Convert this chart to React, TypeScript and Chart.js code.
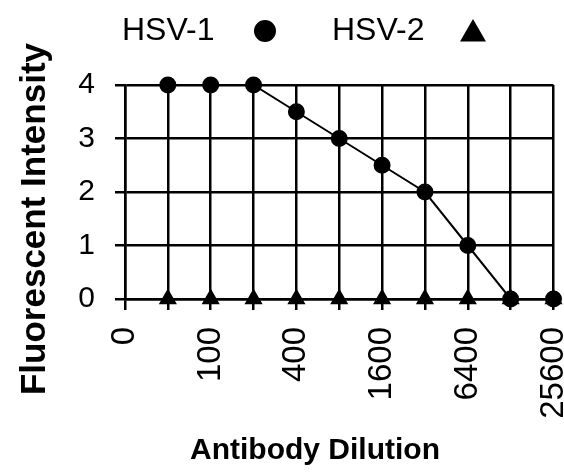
import React, { useEffect, useRef } from "react";
import { Chart, registerables } from "chart.js";
import { drawPoint } from "chart.js/helpers";

Chart.register(...registerables);

const categories = ["0", "50", "100", "200", "400", "800", "1600", "3200", "6400", "12800", "25600"];
const hsv1 = [null, 4, 4, 4, 3.5, 3, 2.5, 2, 1, 0, 0];
const hsv2 = [null, 0, 0, 0, 0, 0, 0, 0, 0, 0, 0];
const yTicks = [0, 1, 2, 3, 4];
const seriesNames = ["HSV-1", "HSV-2"];
const xTitle = "Antibody Dilution";
const yTitle = "Fluorescent Intensity";

const FONT = "'Liberation Sans', Arial, sans-serif";

const customText = {
  id: "customText",
  afterDraw(chart: any) {
    const ctx = chart.ctx;
    ctx.save();
    ctx.fillStyle = "#000";
    // legend
    ctx.font = `32px ${FONT}`;
    ctx.textBaseline = "middle";
    ctx.textAlign = "left";
    const items = [
      { x: 122, mx: 265, my: 31, r: 10 },
      { x: 332, mx: 473, my: 34, r: 13 },
    ];
    chart.data.datasets.forEach((ds: any, i: number) => {
      const it = items[i];
      ctx.fillStyle = "#000";
      ctx.fillText(ds.label, it.x, 31);
      ctx.strokeStyle = "#000";
      drawPoint(ctx, { pointStyle: ds.pointStyle, rotation: 0, radius: it.r, borderWidth: 1 } as any, it.mx, it.my);
    });
    // x title
    ctx.fillStyle = "#000";
    ctx.font = `bold 30px ${FONT}`;
    ctx.textAlign = "center";
    ctx.fillText(xTitle, 315, 451);
    // y title
    ctx.translate(35, 219);
    ctx.rotate(-Math.PI / 2);
    ctx.font = `bold 35px ${FONT}`;
    ctx.fillText(yTitle, 0, 0);
    ctx.restore();
  },
};

const whiteBg = {
  id: "whiteBg",
  beforeDraw(chart: any) {
    const ctx = chart.ctx;
    ctx.save();
    ctx.fillStyle = "#fff";
    ctx.fillRect(0, 0, chart.width, chart.height);
    ctx.restore();
  },
};

export default function App() {
  const ref = useRef<HTMLCanvasElement | null>(null);
  useEffect(() => {
    if (!ref.current) return;
    const chart = new Chart(ref.current, {
      type: "line",
      data: {
        labels: categories,
        datasets: [
          {
            label: seriesNames[0],
            data: hsv1,
            borderColor: "#000",
            backgroundColor: "#000",
            borderWidth: 2,
            pointStyle: "circle",
            pointRadius: 7.5,
            pointBackgroundColor: "#000",
            pointBorderColor: "#000",
            tension: 0,
            clip: false,
            order: 0,
          },
          {
            label: seriesNames[1],
            data: hsv2,
            borderColor: "#000",
            backgroundColor: "#000",
            borderWidth: 2,
            pointStyle: "triangle",
            pointRadius: 8.5,
            pointBackgroundColor: "#000",
            pointBorderColor: "#000",
            tension: 0,
            clip: false,
            order: 1,
          },
        ],
      } as any,
      options: {
        animation: false,
        responsive: true,
        maintainAspectRatio: false,
        layout: { padding: { top: 85, right: 9, left: 0, bottom: 0 } },
        plugins: { legend: { display: false }, tooltip: { enabled: false } },
        scales: {
          x: {
            type: "category",
            offset: false,
            grid: { color: "#000", lineWidth: 2.5, tickLength: 11, drawTicks: true },
            border: { display: true, color: "#000", width: 2.5 },
            ticks: {
              autoSkip: false,
              minRotation: 90,
              maxRotation: 90,
              padding: 17,
              color: "#000",
              font: { family: FONT, size: 33 },
              callback: (_v: any, i: number) => (i % 2 === 0 ? categories[i] : ""),
            },
            afterFit: (s: any) => {
              s.height = 475 - 299;
              s.paddingLeft = 0;
              s.paddingRight = 0;
            },
          },
          y: {
            min: 0,
            max: 4,
            afterBuildTicks: (s: any) => {
              s.ticks = yTicks.map((v) => ({ value: v }));
            },
            grid: { color: "#000", lineWidth: 2.5, tickLength: 10, drawTicks: true },
            border: { display: true, color: "#000", width: 2.5 },
            ticks: {
              padding: 20,
              color: "#000",
              font: { family: FONT, size: 30 },
            },
            afterFit: (s: any) => {
              s.width = 125;
              s.paddingTop = 0;
              s.paddingBottom = 0;
            },
          },
        },
      } as any,
      plugins: [whiteBg, customText],
    });
    return () => chart.destroy();
  }, []);
  return (
    <div style={{ position: "fixed", left: 0, top: 0, width: 564, height: 475, background: "#fff" }}>
      <canvas ref={ref} />
    </div>
  );
}
